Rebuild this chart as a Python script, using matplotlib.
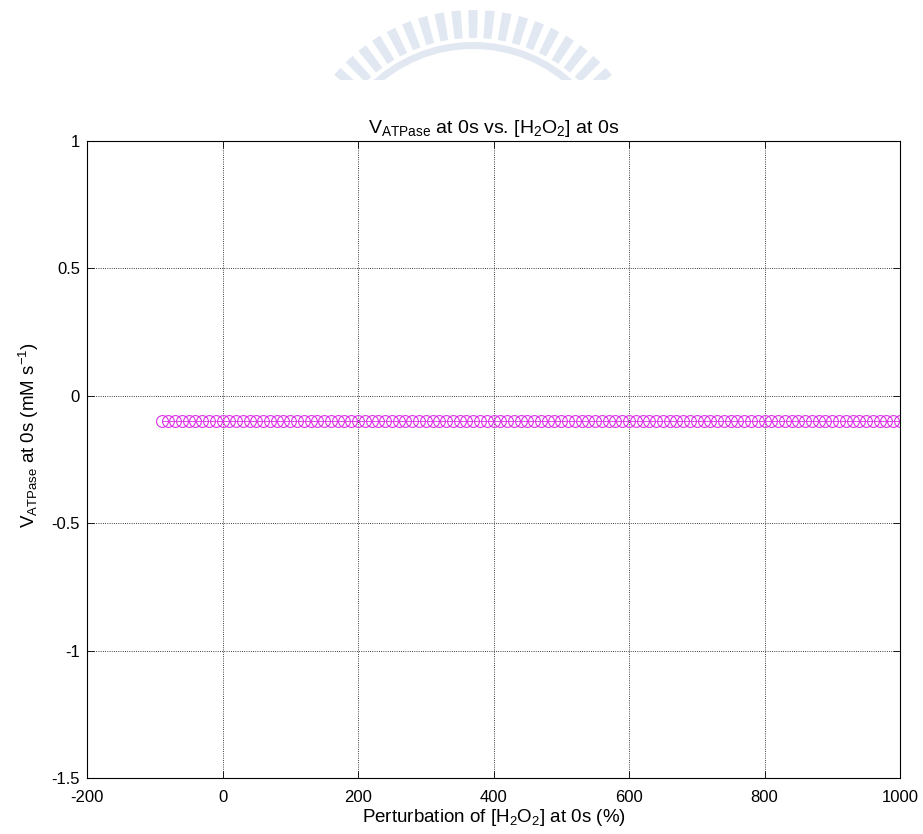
import numpy as np
import matplotlib
matplotlib.use("Agg")
import matplotlib.pyplot as plt
from matplotlib.patches import Wedge, Polygon, Rectangle

# data
perturbation = list(range(-90, 1001, 10))     # perturbation of [H2O2] at 0s (%)
v_atpase = [-0.1] * len(perturbation)          # V_ATPase at 0s (mM s^-1), flat

x_ticks = [-200, 0, 200, 400, 600, 800, 1000]
y_ticks = [-1.5, -1, -0.5, 0, 0.5, 1]
y_tick_labels = ['-1.5', '-1', '-0.5', '0', '0.5', '1']

plt.rcParams['font.family'] = ['Liberation Sans', 'DejaVu Sans']
plt.rcParams['mathtext.fontset'] = 'custom'
plt.rcParams['mathtext.rm'] = 'Liberation Sans'
plt.rcParams['mathtext.it'] = 'Liberation Sans'
plt.rcParams['mathtext.default'] = 'rm'
plt.rcParams['axes.unicode_minus'] = False

W, H = 923, 834
fig = plt.figure(figsize=(W / 100, H / 100), dpi=100)

# faint watermark logo at the top (pixel coordinates)
bg = fig.add_axes([0, 0, 1, 1], zorder=0)
bg.set_xlim(0, W)
bg.set_ylim(H, 0)
bg.axis('off')
wm_color = '#e2e8f2'
cx, cy, R = 473, 191, 181
clip = Rectangle((0, 0), W, 80, transform=bg.transData)
band = Wedge((cx, cy), 149, 180, 360, width=7, color=wm_color, lw=0)
bg.add_patch(band)
band.set_clip_path(clip)
step = 5.4
for ang in np.arange(-90 - 9 * step, -90 + 9 * step + 0.1, step):
    a0, a1 = np.radians(ang - 1.5), np.radians(ang + 1.5)
    pts = [(cx + r * np.cos(a), cy + r * np.sin(a))
           for r, a in [(153, a0), (R, a0), (R, a1), (153, a1)]]
    p = Polygon(pts, closed=True, color=wm_color, lw=0)
    bg.add_patch(p)
    p.set_clip_path(clip)

ax = fig.add_axes([87 / W, 1 - 778 / H, (900 - 87) / W, (778 - 141) / H], zorder=1)
ax.patch.set_alpha(0)

ax.plot(perturbation, v_atpase, 'o-', color='#dc30e6', markerfacecolor='none',
        markersize=8.5, markeredgewidth=0.8, linewidth=0.6)

ax.set_xlim(-200, 1000)
ax.set_ylim(-1.5, 1)
ax.set_xticks(x_ticks)
ax.set_yticks(y_ticks)
ax.set_yticklabels(y_tick_labels)
ax.grid(True, color='black', linestyle=':', linewidth=0.6)
ax.tick_params(direction='in', top=True, right=True, length=5, width=0.6,
               labelsize=12)
ax.tick_params(axis='x', pad=9)
ax.tick_params(axis='y', pad=5)
for s in ax.spines.values():
    s.set_linewidth(0.8)

ax.set_title(r'V$_{\mathrm{ATPase}}$ at 0s vs. [H$_{\mathrm{2}}$O$_{\mathrm{2}}$] at 0s',
             fontsize=14, pad=6)
ax.set_xlabel(r'Perturbation of [H$_{\mathrm{2}}$O$_{\mathrm{2}}$] at 0s (%)', fontsize=13.5, labelpad=1)
ax.set_ylabel(r'V$_{\mathrm{ATPase}}$ at 0s (mM s$^{\mathrm{-1}}$)', fontsize=13.5)
ax.yaxis.set_label_coords(-0.057, 0.538)

fig.savefig('out.png', dpi=100)
